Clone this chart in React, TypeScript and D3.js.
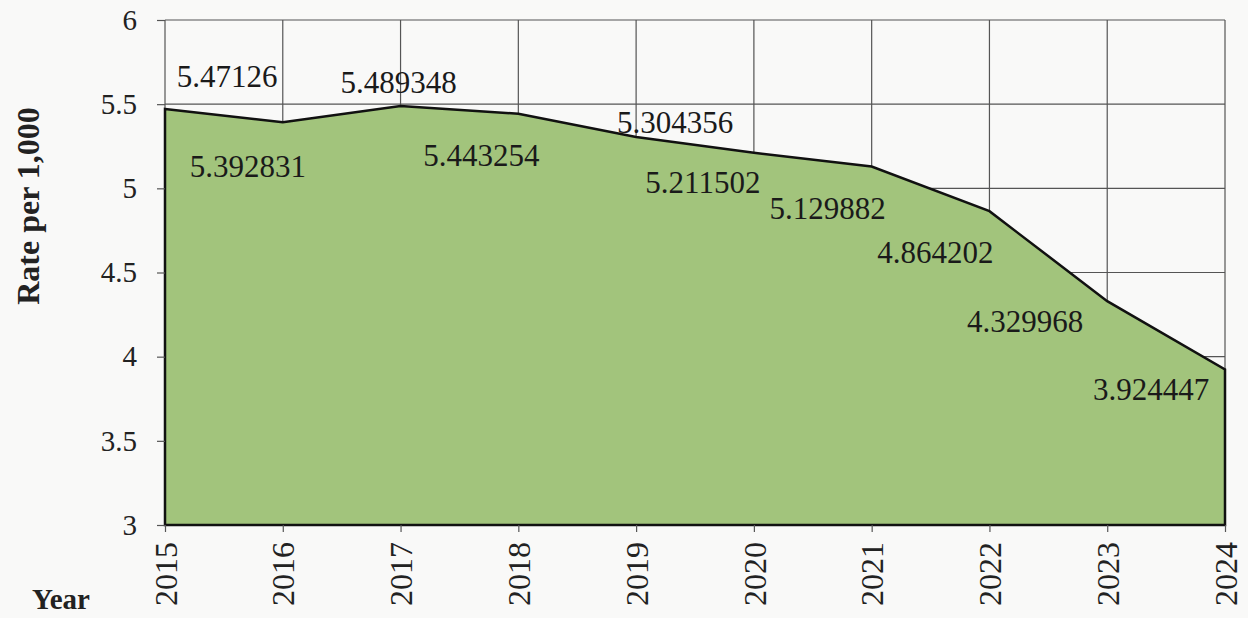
import React, { useRef, useEffect } from 'react';
import * as d3 from 'd3';

const years = ['2015', '2016', '2017', '2018', '2019', '2020', '2021', '2022', '2023', '2024'];
const rates = [5.47126, 5.392831, 5.489348, 5.443254, 5.304356, 5.211502, 5.129882, 4.864202, 4.329968, 3.924447];
const yTicks = [3, 3.5, 4, 4.5, 5, 5.5, 6];

// where each value label sits relative to its point (dx, dy to baseline)
const labelOffsets = [
  [62, -22], [-35, 55], [-2, -13], [-37, 52], [39, -4],
  [-51, 40], [-44, 53], [-54, 52], [-82, 31], [-74, 31]
];

const App = () => {
  const ref = useRef(null);

  useEffect(() => {
    if (!ref.current) return;
    const svg = d3.select(ref.current);
    svg.selectAll('*').remove();

    const margin = { top: 20, right: 23, bottom: 93, left: 165 };
    const width = 1248;
    const height = 618;
    const innerW = width - margin.left - margin.right;
    const innerH = height - margin.top - margin.bottom;
    const font = "'Liberation Serif', serif";

    svg.append('rect').attr('width', width).attr('height', height).attr('fill', '#f9f9f8');

    const g = svg.append('g').attr('transform', `translate(${margin.left},${margin.top})`);

    const x = d3.scalePoint().domain(years).range([0, innerW]);
    const y = d3.scaleLinear().domain([3, 6]).range([innerH, 0]);

    // grid
    g.append('g')
      .selectAll('line')
      .data(yTicks)
      .join('line')
      .attr('x1', 0)
      .attr('x2', innerW)
      .attr('y1', (d) => y(d))
      .attr('y2', (d) => y(d))
      .attr('stroke', '#555')
      .attr('stroke-width', 1.2);
    g.append('g')
      .selectAll('line')
      .data(years)
      .join('line')
      .attr('x1', (d) => x(d))
      .attr('x2', (d) => x(d))
      .attr('y1', 0)
      .attr('y2', innerH)
      .attr('stroke', '#555')
      .attr('stroke-width', 1.2);

    const data = years.map((yr, i) => ({ year: yr, rate: rates[i] }));

    const area = d3
      .area()
      .x((d) => x(d.year))
      .y0(innerH)
      .y1((d) => y(d.rate));

    g.append('path')
      .datum(data)
      .attr('d', area)
      .attr('fill', '#a2c47c')
      .attr('stroke', '#111')
      .attr('stroke-width', 2.5)
      .attr('stroke-linejoin', 'miter');

    // axes
    const yAxis = d3.axisLeft(y).tickValues(yTicks).tickSize(8).tickPadding(20).tickFormat((d) => String(d));
    const yAxisG = g.append('g').call(yAxis).attr('font-family', null).attr('font-size', null);
    yAxisG.select('.domain').remove();
    yAxisG.selectAll('line').attr('stroke', '#555').attr('stroke-width', 1.2);
    yAxisG.selectAll('text')
      .style('font-family', font)
      .style('font-size', '29px')
      .attr('fill', '#222');

    const xAxis = d3.axisBottom(x).tickSize(7);
    const xAxisG = g.append('g').attr('transform', `translate(0,${innerH})`).call(xAxis)
      .attr('font-family', null).attr('font-size', null);
    xAxisG.select('.domain').remove();
    xAxisG.selectAll('line').attr('stroke', '#555').attr('stroke-width', 1.2);
    xAxisG.selectAll('text')
      .style('font-family', font)
      .style('font-size', '32px')
      .attr('fill', '#222')
      .attr('text-anchor', 'end')
      .attr('transform', 'rotate(-90)')
      .attr('x', -17)
      .attr('y', 0)
      .attr('dy', '0.35em');

    // value labels
    g.append('g')
      .selectAll('text')
      .data(data)
      .join('text')
      .attr('x', (d, i) => x(d.year) + labelOffsets[i][0])
      .attr('y', (d, i) => y(d.rate) + labelOffsets[i][1])
      .attr('text-anchor', 'middle')
      .style('font-family', font)
      .style('font-size', '31px')
      .attr('fill', '#1a1a1a')
      .text((d) => d.rate);

    // titles
    svg.append('text')
      .attr('transform', 'translate(39,206) rotate(-90)')
      .attr('text-anchor', 'middle')
      .style('font-family', font)
      .style('font-weight', 'bold')
      .style('font-size', '32px')
      .attr('fill', '#222')
      .text('Rate per 1,000');

    svg.append('text')
      .attr('x', 32)
      .attr('y', 609)
      .style('font-family', font)
      .style('font-weight', 'bold')
      .style('font-size', '29px')
      .attr('fill', '#222')
      .text('Year');
  }, []);

  return (
    <>
      <style>{'body{margin:0}'}</style>
      <svg ref={ref} width={1248} height={618} style={{ display: 'block' }} />
    </>
  );
};

export default App;
